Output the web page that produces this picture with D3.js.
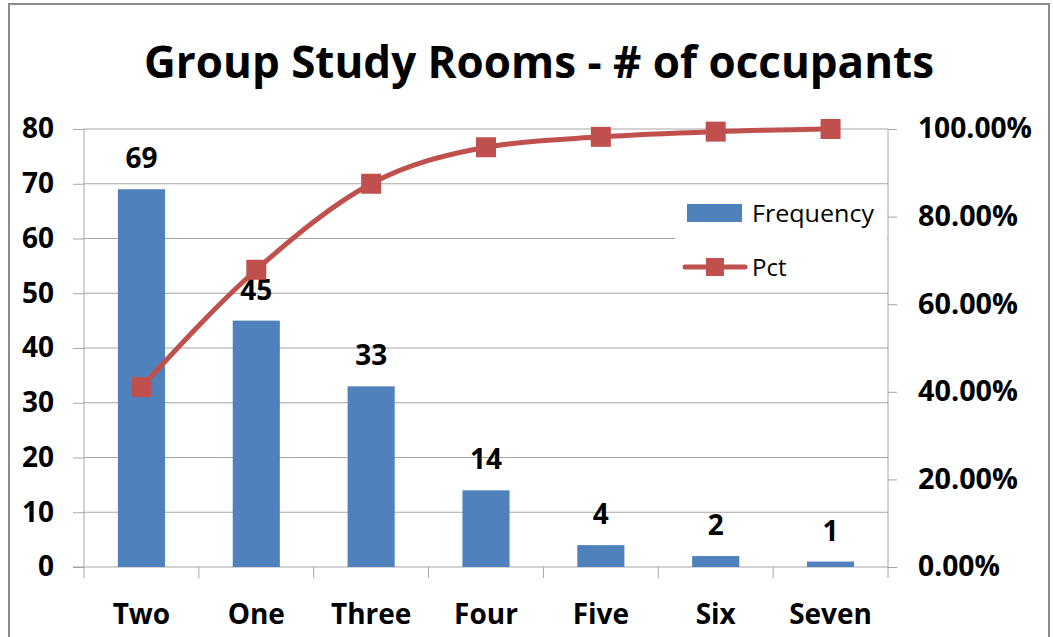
<!DOCTYPE html>
<html>
<head>
<meta charset="utf-8">
<script src="https://cdn.jsdelivr.net/npm/d3@7"></script>
<style>
  body { margin: 0; background: #fff; }
  svg { display: block; }
  text { font-family: "Open Sans", Lato, sans-serif; fill: #000; }
</style>
</head>
<body>
<div id="container"></div>
<script>
const categories = ["Two", "One", "Three", "Four", "Five", "Six", "Seven"];
const frequency = [69, 45, 33, 14, 4, 2, 1];
const pct = [0.4107, 0.6786, 0.875, 0.9583, 0.9821, 0.994, 1.0];
const leftTicks = [0, 10, 20, 30, 40, 50, 60, 70, 80];
const rightTicks = [0, 0.2, 0.4, 0.6, 0.8, 1.0];
const title = "Group Study Rooms - # of occupants";

const w = 1053, h = 637;
const margin = {top: 129, left: 84, bottom: 70, right: 165};
const graphWidth = w - margin.left - margin.right;
const graphHeight = h - margin.top - margin.bottom;

const barColor = "#4F81BD";
const lineColor = "#C0504D";
const gridColor = "#A6A6A6";
const font = "'Open Sans', Lato, sans-serif";

const svg = d3.select("#container").append("svg").attr("width", w).attr("height", h);

// outer chart border
svg.append("rect")
  .attr("x", 9).attr("y", 4).attr("width", 1040).attr("height", 660)
  .attr("fill", "none").attr("stroke", "#8c8c8c").attr("stroke-width", 2);

svg.append("text")
  .attr("x", 539).attr("y", 78)
  .attr("text-anchor", "middle")
  .attr("font-size", 45).attr("font-weight", "bold")
  .attr("textLength", 790).attr("lengthAdjust", "spacingAndGlyphs")
  .text(title);

const graph = svg.append("g").attr("transform", `translate(${margin.left}, ${margin.top})`);

const xScale = d3.scaleBand().domain(categories).range([0, graphWidth]);
const yScale = d3.scaleLinear().domain([0, 80]).range([graphHeight, 0]);
const yRight = d3.scaleLinear().domain([0, 1]).range([graphHeight, 0]);

// gridlines
graph.append("g").selectAll("line")
  .data(leftTicks.slice(1))
  .enter().append("line")
    .attr("x1", 0).attr("x2", graphWidth)
    .attr("y1", d => yScale(d)).attr("y2", d => yScale(d))
    .attr("stroke", gridColor).attr("stroke-width", 1);

// left axis
const yAxis = d3.axisLeft(yScale).tickValues(leftTicks).tickSize(11).tickPadding(19);
const yAxisGroup = graph.append("g").call(yAxis);
yAxisGroup.select(".domain").remove();
yAxisGroup.append("line").attr("x1", 0).attr("x2", 0).attr("y1", 0).attr("y2", graphHeight + 11);

// right axis
const yRightAxis = d3.axisRight(yRight).tickValues(rightTicks).tickSize(9).tickPadding(21)
  .tickFormat(d3.format(".2%"));
const yRightGroup = graph.append("g").attr("transform", `translate(${graphWidth}, 0)`).call(yRightAxis);
yRightGroup.select(".domain").remove();
yRightGroup.append("line").attr("x1", 0).attr("x2", 0).attr("y1", 0).attr("y2", graphHeight + 11);

// bottom axis with ticks at band boundaries
const xAxisGroup = graph.append("g").attr("transform", `translate(0, ${graphHeight})`);
xAxisGroup.append("line").attr("x1", -11).attr("x2", graphWidth).attr("y1", 0).attr("y2", 0);
xAxisGroup.selectAll("line.tk")
  .data(categories.slice(1))
  .enter().append("line").attr("class", "tk")
    .attr("x1", d => xScale(d)).attr("x2", d => xScale(d))
    .attr("y1", 0).attr("y2", 11);
xAxisGroup.selectAll("text")
  .data(categories)
  .enter().append("text")
    .attr("x", d => xScale(d) + xScale.bandwidth() / 2)
    .attr("y", 57)
    .attr("text-anchor", "middle")
    .attr("font-size", 28).attr("font-weight", "bold")
    .text(d => d);

[yAxisGroup, yRightGroup, xAxisGroup].forEach(g => {
  g.selectAll("line").attr("stroke", gridColor).attr("stroke-width", 1);
});
yAxisGroup.selectAll("text").attr("font-size", 28).attr("font-weight", "bold").attr("font-family", font).attr("fill", "#000");
yRightGroup.selectAll("text").attr("font-size", 28).attr("font-weight", "bold").attr("font-family", font).attr("fill", "#000")
  .attr("textLength", d => d === 1 ? 114 : d === 0 ? 82 : 100).attr("lengthAdjust", "spacingAndGlyphs");

// bars
const barW = xScale.bandwidth() * 0.41;
graph.selectAll("rect.bar")
  .data(frequency)
  .enter().append("rect").attr("class", "bar")
    .attr("x", (d, i) => xScale(categories[i]) + (xScale.bandwidth() - barW) / 2)
    .attr("y", d => yScale(d))
    .attr("width", barW)
    .attr("height", d => graphHeight - yScale(d))
    .attr("fill", barColor);

// bar labels
graph.selectAll("text.lbl")
  .data(frequency)
  .enter().append("text").attr("class", "lbl")
    .attr("x", (d, i) => xScale(categories[i]) + xScale.bandwidth() / 2)
    .attr("y", d => yScale(d) - 21)
    .attr("text-anchor", "middle")
    .attr("font-size", 28).attr("font-weight", "bold")
    .text(d => d);

// legend background and entries
const legend = graph.append("g").attr("transform", `translate(${675 - margin.left}, ${190 - margin.top})`);
legend.append("rect").attr("width", 212).attr("height", 100).attr("fill", "#fff");
legend.append("rect").attr("x", 12).attr("y", 14).attr("width", 55).attr("height", 18).attr("fill", barColor);
legend.append("text").attr("x", 77).attr("y", 32).attr("font-size", 24)
  .attr("textLength", 122).attr("lengthAdjust", "spacingAndGlyphs").text("Frequency");
legend.append("line").attr("x1", 10).attr("x2", 70).attr("y1", 77).attr("y2", 77)
  .attr("stroke", lineColor).attr("stroke-width", 5).attr("stroke-linecap", "round");
legend.append("rect").attr("x", 31).attr("y", 68).attr("width", 18).attr("height", 18).attr("fill", lineColor);
legend.append("text").attr("x", 77).attr("y", 86).attr("font-size", 24).text("Pct");

// cumulative pct line
const cx = i => xScale(categories[i]) + xScale.bandwidth() / 2;
const line = d3.line().x((d, i) => cx(i)).y(d => yRight(d)).curve(d3.curveMonotoneX);
graph.append("path").datum(pct)
  .attr("d", line)
  .attr("fill", "none").attr("stroke", lineColor).attr("stroke-width", 5);
graph.selectAll("rect.mk")
  .data(pct)
  .enter().append("rect").attr("class", "mk")
    .attr("x", (d, i) => cx(i) - 10).attr("y", d => yRight(d) - 10)
    .attr("width", 20).attr("height", 20)
    .attr("fill", lineColor);
</script>
</body>
</html>
